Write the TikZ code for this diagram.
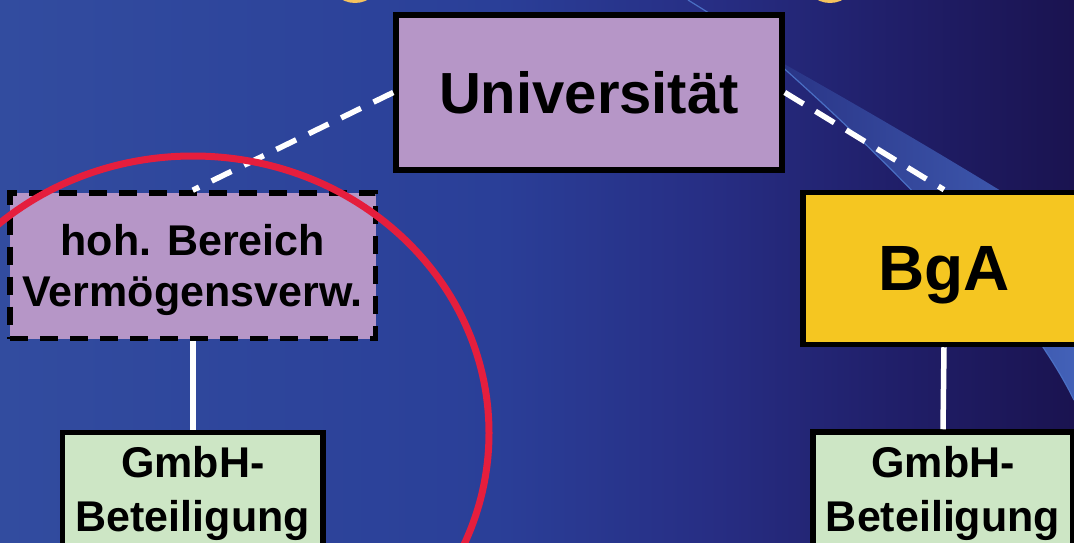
\documentclass[tikz,border=0pt]{standalone}
\usepackage{fontspec}
\setmainfont{Liberation Sans}

\definecolor{lila}{HTML}{B696C7}
\definecolor{gelb}{HTML}{F5C621}
\definecolor{gruen}{HTML}{CDE6C5}
\definecolor{rot}{HTML}{E51E3D}
\definecolor{sonne}{HTML}{F6C35E}
\definecolor{streifen}{HTML}{4A6FC4}

\pgfdeclarehorizontalshading{hintergrund}{100bp}{rgb(0bp)=(0.196,0.298,0.624); rgb(25bp)=(0.196,0.298,0.624); rgb(48bp)=(0.165,0.247,0.596); rgb(58bp)=(0.153,0.18,0.518); rgb(67bp)=(0.125,0.118,0.408); rgb(75bp)=(0.102,0.075,0.314); rgb(100bp)=(0.102,0.075,0.314)}
\pgfdeclarehorizontalshading{band}{100bp}{rgb(0bp)=(0.16,0.2,0.52); rgb(25bp)=(0.16,0.2,0.52); rgb(75bp)=(0.26,0.38,0.72); rgb(100bp)=(0.26,0.38,0.72)}

\begin{document}
\begin{tikzpicture}[x=1pt,y=-1pt,
        kasten/.style={draw=black,line width=5.5pt,align=center,inner sep=0pt,text depth=0pt},
        verbindung/.style={draw=white,line width=5.5pt},
        gestrichelt/.style={verbindung,dash pattern=on 22pt off 14pt}]
    \useasboundingbox (0,0) rectangle (1074,543);
    \clip (0,0) rectangle (1074,543);
    \shade [shading=hintergrund] (0,0) rectangle (1074,543);

    % Lichtstreifen rechts oben
    \shade [shading=band] (770,56) .. controls (880,118) and (960,165) .. (1074,236) --
                          (1074,400) .. controls (1040,330) and (950,215) .. (770,56) -- cycle;
    \draw [streifen,line width=1.2pt] (688,0) .. controls (720,20) and (750,38) .. (770,56)
                                      .. controls (950,215) and (1040,330) .. (1074,400);
    \foreach \x in {355,830}
        {\fill [sonne] (\x,-24) circle (27);}

    \node [kasten,fill=lila,minimum width=386pt,minimum height=155pt,
           font=\fontsize{58}{60}\selectfont\bfseries] (uni) at (589,92.5) {Universität};
    \node [kasten,fill=lila,dash pattern=on 18pt off 12pt,minimum width=365.5pt,minimum height=145.5pt,
           font=\fontsize{43}{51}\selectfont\bfseries] (hoh) at (192.75,265.75) {hoh. Bereich\\Vermögensverw.};
    \node [kasten,fill=gelb,minimum width=282pt,minimum height=152pt,
           font=\fontsize{64}{66}\selectfont\bfseries] (bga) at (944,268.5) {BgA};
    \node [kasten,fill=gruen,minimum width=260.5pt,minimum height=113.6pt,
           font=\fontsize{43}{54}\selectfont\bfseries] (gmbhl) at (192.75,489.3) {GmbH-\\Beteiligung};
    \node [kasten,fill=gruen,minimum width=260pt,minimum height=114pt,
           font=\fontsize{43}{54}\selectfont\bfseries] (gmbhr) at (943,489) {GmbH-\\Beteiligung};

    \draw [gestrichelt] (uni.west) -- (hoh.north);
    \draw [gestrichelt] (uni.east) -- (bga.north);
    \draw [verbindung] (hoh.south) -- (gmbhl.north);
    \draw [verbindung] (bga.south) -- (gmbhr.north);

    \draw [rot,line width=7pt] (193,433) ellipse [x radius=296,y radius=277];
\end{tikzpicture}
\end{document}
